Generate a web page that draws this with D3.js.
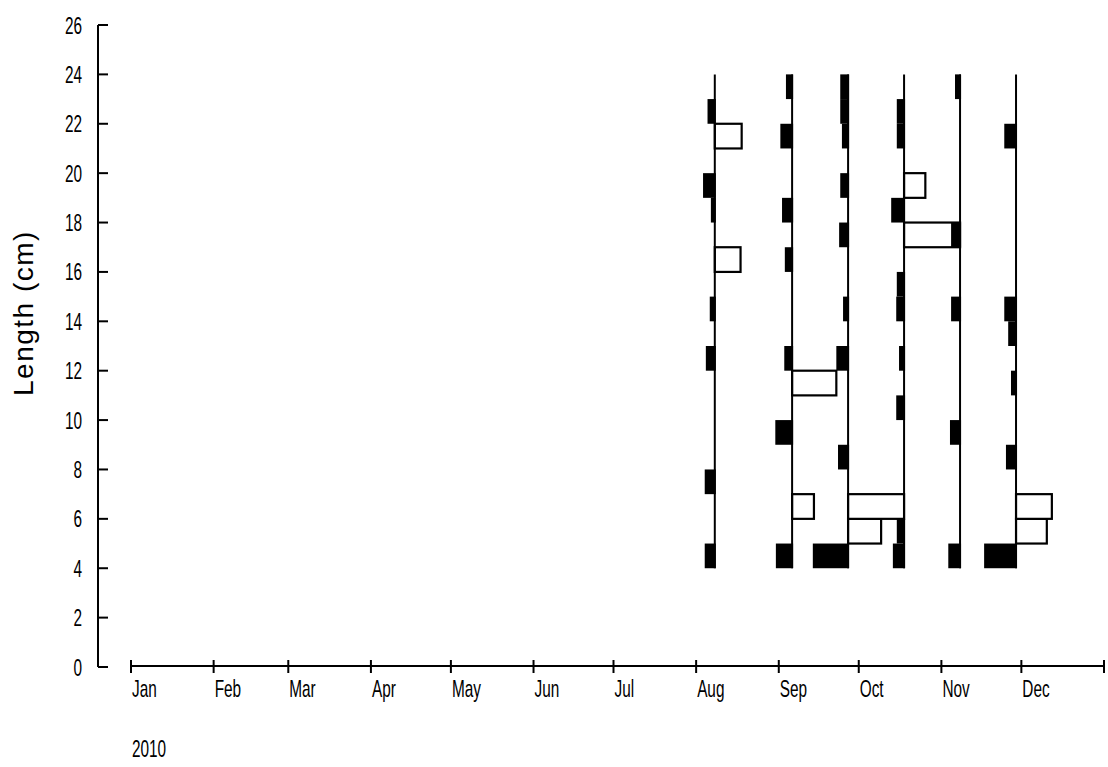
<!DOCTYPE html>
<html>
<head>
<meta charset="utf-8">
<script src="https://cdn.jsdelivr.net/npm/d3@7"></script>
<style>
  html, body { margin: 0; padding: 0; background: #fff; }
  svg { display: block; }
  .tick-label { font-family: "Liberation Sans", Arial, sans-serif; font-size: 24px; fill: #000; }
  .axis-title { font-family: "Liberation Sans", Arial, sans-serif; font-size: 28px; letter-spacing: 1.5px; fill: #000; }
</style>
</head>
<body>
<svg id="chart" width="1108" height="767"></svg>
<script>
// ---- data ----
const sampleDates = ["2010-08-08", "2010-09-06", "2010-09-27", "2010-10-18", "2010-11-08", "2010-11-29"];
// lower bounds of the 1 cm length classes (4-5 ... 23-24)
const lengthClasses = [4, 5, 6, 7, 8, 9, 10, 11, 12, 13, 14, 15, 16, 17, 18, 19, 20, 21, 22, 23];
// restructured frequencies per sample (negative = black bars, positive = white bars)
const scoresAug08 = [-0.18, 0, 0, -0.18, 0, 0, 0, 0, -0.16, 0, -0.09, 0, 0.46, 0, -0.07, -0.21, 0, 0.48, -0.13, 0];
const scoresSep06 = [-0.29, 0, 0.39, 0, 0, -0.30, 0, 0.79, -0.14, 0, 0, 0, -0.13, 0, -0.18, 0, 0, -0.21, 0, -0.11];
const scoresSep27 = [-0.63, 0.59, 1.0, 0, -0.18, 0, 0, 0, -0.21, 0, -0.09, 0, 0, -0.16, 0, -0.14, 0, -0.11, -0.14, -0.14];
const scoresOct18 = [-0.20, -0.13, 0, 0, 0, 0, -0.14, 0, -0.09, 0, -0.14, -0.13, 0, 1.0, -0.23, 0.38, 0, -0.13, -0.13, 0];
const scoresNov08 = [-0.21, 0, 0, 0, 0, -0.18, 0, 0, 0, 0, -0.16, 0, 0, -0.16, 0, 0, 0, 0, 0, -0.09];
const scoresNov29 = [-0.57, 0.55, 0.64, 0, -0.18, 0, 0, -0.09, 0, -0.14, -0.21, 0, 0, 0, 0, 0, 0, -0.21, 0, 0];
const allScores = [scoresAug08, scoresSep06, scoresSep27, scoresOct18, scoresNov08, scoresNov29];
const yTicks = [0, 2, 4, 6, 8, 10, 12, 14, 16, 18, 20, 22, 24, 26];
const monthLabels = ["Jan", "Feb", "Mar", "Apr", "May", "Jun", "Jul", "Aug", "Sep", "Oct", "Nov", "Dec"];
const yearLabel = "2010";
const yTitle = "Length (cm)";
const classWidth = 1;

// ---- layout ----
const svg = d3.select("#chart");
const parse = d3.timeParse("%Y-%m-%d");
const x = d3.scaleTime().domain([new Date(2010, 0, 1), new Date(2011, 0, 1)]).range([131, 1104]);
const y = d3.scaleLinear().domain([0, 26]).range([667, 25]);
const dates = sampleDates.map(parse);
const barLen = d3.scaleLinear().domain([0, 1]).range([0, x(dates[2]) - x(dates[1])]);
const narrow = 0.64;

function narrowText(px, py, str, anchor) {
  svg.append("text").attr("class", "tick-label")
    .attr("transform", `translate(${px},${py}) scale(${narrow},1)`)
    .attr("text-anchor", anchor || "start").text(str);
}

// ---- y axis ----
const yAxisX = 98;
svg.append("line").attr("x1", yAxisX).attr("x2", yAxisX).attr("y1", y(26)).attr("y2", y(0))
  .attr("stroke", "#000").attr("stroke-width", 2);
yTicks.forEach(t => {
  svg.append("line").attr("x1", yAxisX).attr("x2", yAxisX + 10).attr("y1", y(t)).attr("y2", y(t))
    .attr("stroke", "#000").attr("stroke-width", 2);
  narrowText(82, y(t) + 8.5, t, "end");
});
svg.append("text").attr("class", "axis-title")
  .attr("transform", `translate(33, 313) rotate(-90)`)
  .attr("text-anchor", "middle").text(yTitle);

// ---- x axis ----
const xAxisY = 666;
svg.append("line").attr("x1", x.range()[0]).attr("x2", x.range()[1]).attr("y1", xAxisY).attr("y2", xAxisY)
  .attr("stroke", "#000").attr("stroke-width", 2);
const monthTicks = d3.timeMonth.range(new Date(2010, 0, 1), new Date(2011, 0, 2));
monthTicks.forEach(d => {
  svg.append("line").attr("x1", x(d)).attr("x2", x(d)).attr("y1", xAxisY - 6).attr("y2", xAxisY + 7)
    .attr("stroke", "#000").attr("stroke-width", 2);
});
monthTicks.slice(0, 12).forEach((d, i) => {
  narrowText(x(d) + 1, 697, monthLabels[i]);
});
narrowText(x.range()[0] + 1, 757, yearLabel);

// ---- bars ----
const marks = svg.append("g");
// white (positive) bars first
dates.forEach((d, i) => {
  const cx = x(d);
  allScores[i].forEach((v, k) => {
    if (v > 0) {
      const lo = lengthClasses[k];
      marks.append("rect")
        .attr("x", cx).attr("y", y(lo + classWidth))
        .attr("width", barLen(v)).attr("height", y(lo) - y(lo + classWidth))
        .attr("fill", "#fff").attr("stroke", "#000").attr("stroke-width", 2.2);
    }
  });
});
// sample lines
dates.forEach(d => {
  marks.append("line").attr("x1", x(d)).attr("x2", x(d))
    .attr("y1", y(lengthClasses[0])).attr("y2", y(lengthClasses[lengthClasses.length - 1] + classWidth))
    .attr("stroke", "#000").attr("stroke-width", 2);
});
// black (negative) bars
dates.forEach((d, i) => {
  const cx = x(d);
  allScores[i].forEach((v, k) => {
    if (v < 0) {
      const lo = lengthClasses[k];
      const w = barLen(-v);
      marks.append("rect")
        .attr("x", cx - w).attr("y", y(lo + classWidth))
        .attr("width", w + 1).attr("height", y(lo) - y(lo + classWidth))
        .attr("fill", "#000");
    }
  });
});
</script>
</body>
</html>
